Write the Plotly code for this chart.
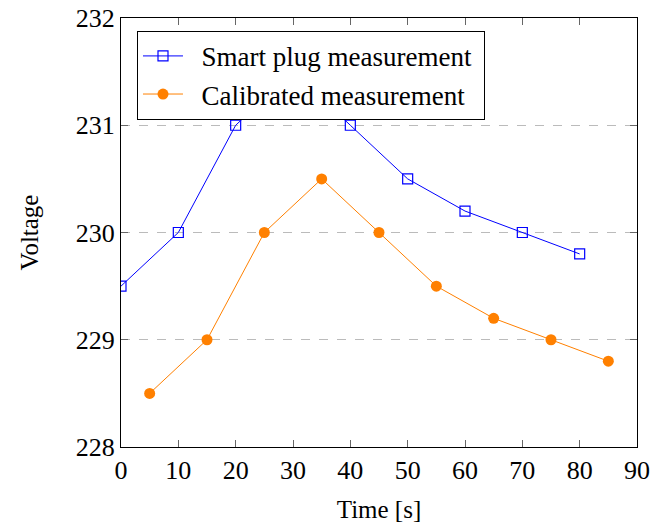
import plotly.graph_objects as go

time_smart = [0, 10, 20, 30, 40, 50, 60, 70, 80]
volt_smart = [229.5, 230.0, 231.0, 231.5, 231.0, 230.5, 230.2, 230.0, 229.8]
time_cal = [5, 15, 25, 35, 45, 55, 65, 75, 85]
volt_cal = [228.5, 229.0, 230.0, 230.5, 230.0, 229.5, 229.2, 229.0, 228.8]
x_ticks = [0, 10, 20, 30, 40, 50, 60, 70, 80, 90]
y_ticks = [228, 229, 230, 231, 232]

FONT = "Liberation Serif"
NB = "\u00a0"

fig = go.Figure()
fig.add_trace(go.Scatter(
    x=time_smart, y=volt_smart, mode="lines+markers",
    name=NB * 2 + "Smart plug measurement" + NB,
    line=dict(color="#0000ff", width=1),
    marker=dict(symbol="square-open", size=10, color="#0000ff", line=dict(width=1.2)),
))
fig.add_trace(go.Scatter(
    x=time_cal, y=volt_cal, mode="lines+markers",
    name=NB * 2 + "Calibrated measurement",
    line=dict(color="#ff8000", width=1),
    marker=dict(symbol="circle", size=11, color="#ff8000"),
))

fig.update_layout(
    width=667, height=525,
    margin=dict(l=121, r=30, t=18, b=78, autoexpand=False),
    paper_bgcolor="white", plot_bgcolor="white",
    font=dict(family=FONT, size=26, color="black"),
    showlegend=True,
    legend=dict(
        x=0.031, y=0.97, xanchor="left", yanchor="top",
        bordercolor="black", borderwidth=1, bgcolor="white",
        font=dict(family=FONT, size=27),
        tracegroupgap=0, itemwidth=40,
    ),
    xaxis=dict(
        range=[0, 90], tickvals=x_ticks, ticks="inside", ticklen=7,
        tickcolor="#666", showline=True, linecolor="black", linewidth=1,
        mirror="ticks", showgrid=False, zeroline=False, automargin=False,
        ticklabeloverflow="allow",
        title=dict(text="Time [s]", standoff=16, font=dict(size=25)),
        tickfont=dict(size=26),
    ),
    yaxis=dict(
        range=[228, 232], tickvals=y_ticks, ticks="inside", ticklen=7,
        tickcolor="#666", showline=True, linecolor="black", linewidth=1,
        mirror="ticks", showgrid=True, gridcolor="#bbbbbb", griddash="dash",
        gridwidth=1, zeroline=False, automargin=False,
        ticklabeloverflow="allow",
        title=dict(text="Voltage", standoff=30, font=dict(size=25)),
        tickfont=dict(size=26),
    ),
)

fig.write_html("out.html", config={"displayModeBar": False},
               post_script="document.body.style.margin='0px';")
